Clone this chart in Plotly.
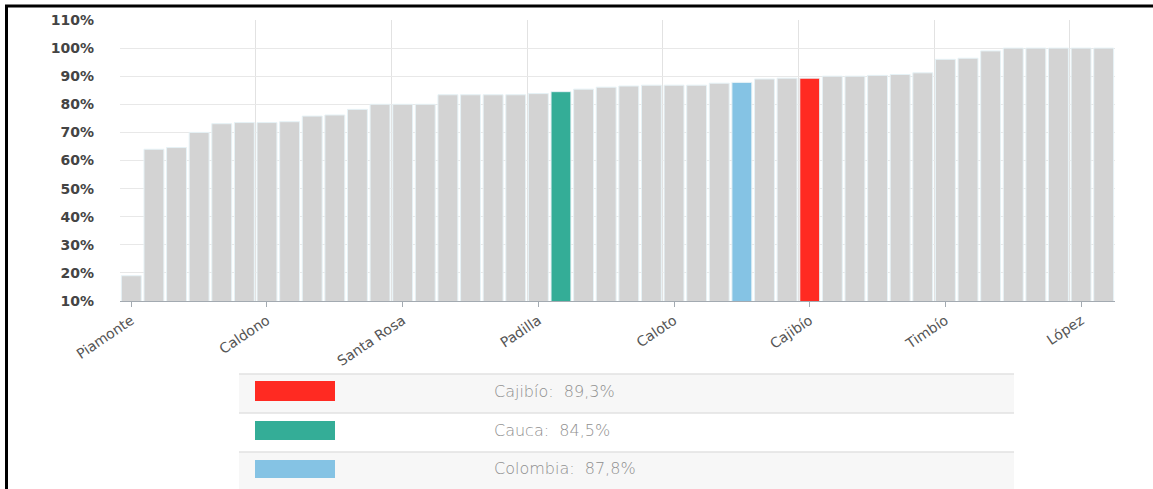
import plotly.graph_objects as go

# ---- data ----
# Only every sixth municipality is labelled in the reference; the names of the
# unlabelled bars cannot be read, so they are left blank.
categories = [
    "Piamonte", "", "", "", "", "",
    "Caldono", "", "", "", "", "",
    "Santa Rosa", "", "", "", "", "",
    "Padilla", "Cauca", "", "", "", "",
    "Caloto", "", "", "Colombia", "", "",
    "Cajibío", "", "", "", "", "",
    "Timbío", "", "", "", "", "",
    "López", "",
]
values = [
    19.0, 64.0, 64.6, 70.0, 73.1, 73.5, 73.5, 73.8, 75.8, 76.2,
    78.2, 80.0, 80.0, 80.0, 83.4, 83.4, 83.4, 83.4, 83.8, 84.5,
    85.4, 86.1, 86.5, 86.8, 86.8, 86.8, 87.5, 87.8, 89.0, 89.3,
    89.3, 90.0, 90.0, 90.3, 90.6, 91.2, 96.0, 96.4, 99.0, 100.0,
    100.0, 100.0, 100.0, 100.0,
]
tick_labels = ["Piamonte", "Caldono", "Santa Rosa", "Padilla",
               "Caloto", "Cajibío", "Timbío", "López"]

legend_names = ["Cajibío", "Cauca", "Colombia"]
legend_values = [89.3, 84.5, 87.8]
legend_colors = ["#ff2a22", "#34ad97", "#85c3e4"]
base_color = "#d3d3d3"

# ---- figure ----
W, H = 1153, 489
ML, MR, MT, MB = 120, 38, 20, 188
PW, PH = W - ML - MR, H - MT - MB


def px_x(p):
    return (p - ML) / PW


def px_y(p):
    return (H - MB - p) / PH


highlight = dict(zip(legend_names, legend_colors))
xs = list(range(len(values)))
bar_colors = [highlight.get(c, base_color) for c in categories]

fig = go.Figure()
fig.add_trace(go.Bar(
    x=xs, y=values,
    marker=dict(color=bar_colors, line=dict(color="#e6f2f6", width=1)),
    hovertext=categories, hoverinfo="text+y",
    showlegend=False,
))

tickvals = [categories.index(t) for t in tick_labels]

fig.update_layout(
    width=W, height=H,
    margin=dict(l=ML, r=MR, t=MT, b=MB, pad=0),
    paper_bgcolor="white", plot_bgcolor="white",
    bargap=0.12,
    xaxis=dict(
        range=[-0.5, len(values) - 0.5],
        tickmode="array", tickvals=tickvals, ticktext=tick_labels,
        tickangle=-34,
        showgrid=False, zeroline=False,
        showline=True, linecolor="#a3aab1", linewidth=1,
        ticks="outside", ticklen=5, tickcolor="#a3aab1", tickwidth=1,
        tickfont=dict(family="DejaVu Sans", size=14, color="#555555"),
        minor=dict(tickmode="linear", tick0=-0.5, dtick=6, showgrid=True,
                   gridcolor="#e2e2e2", gridwidth=1, ticks=""),
    ),
    yaxis=dict(
        range=[10, 110], tickmode="linear", tick0=10, dtick=10,
        ticksuffix="%",
        showgrid=True, gridcolor="#e8e8e8", gridwidth=1,
        zeroline=False, showline=False,
        ticks="", ticklabelstandoff=25,
        tickfont=dict(family="DejaVu Sans", size=14, color="#444444",
                      weight="bold"),
    ),
)

shapes = []
# legend table rows
row_tops = [374, 413, 452]
row_bottoms = [413, 452, 489]
row_fills = ["#f7f7f7", "#ffffff", "#f7f7f7"]
for top, bot, fill in zip(row_tops, row_bottoms, row_fills):
    shapes.append(dict(type="rect", xref="paper", yref="paper",
                       x0=px_x(239), x1=px_x(1014), y0=px_y(bot), y1=px_y(top),
                       fillcolor=fill, line=dict(width=0), layer="below"))
    shapes.append(dict(type="line", xref="paper", yref="paper",
                       x0=px_x(239), x1=px_x(1014), y0=px_y(top), y1=px_y(top),
                       line=dict(color="#e2e2e2", width=1.5)))

swatch_tops = [381, 421, 460]
swatch_bots = [401, 440, 478]
annotations = []
for name, val, col, st, sb in zip(legend_names, legend_values, legend_colors,
                                  swatch_tops, swatch_bots):
    shapes.append(dict(type="rect", xref="paper", yref="paper",
                       x0=px_x(255), x1=px_x(335), y0=px_y(sb), y1=px_y(st),
                       fillcolor=col, line=dict(width=0)))
    label = f"{name}:\u00a0\u00a0" + f"{val:.1f}".replace(".", ",") + "%"
    annotations.append(dict(xref="paper", yref="paper",
                            x=px_x(492), y=px_y((st + sb) / 2),
                            xanchor="left", yanchor="middle",
                            text=label, showarrow=False,
                            font=dict(family="DejaVu Sans", size=16,
                                      color="#8f8f8f", weight=200)))

# black frame lines at top and left of the picture
shapes.append(dict(type="line", xref="paper", yref="paper",
                   x0=px_x(5), x1=px_x(1153), y0=px_y(6), y1=px_y(6),
                   line=dict(color="black", width=3)))
shapes.append(dict(type="line", xref="paper", yref="paper",
                   x0=px_x(6.5), x1=px_x(6.5), y0=px_y(5), y1=px_y(489),
                   line=dict(color="black", width=3)))

fig.update_layout(shapes=shapes, annotations=annotations)

# remove the page's default body margin so the figure sits at the window origin
fig.write_html("out.html",
               config={"displayModeBar": False},
               post_script="document.body.style.margin='0';"
                           "document.body.style.overflow='hidden';")
